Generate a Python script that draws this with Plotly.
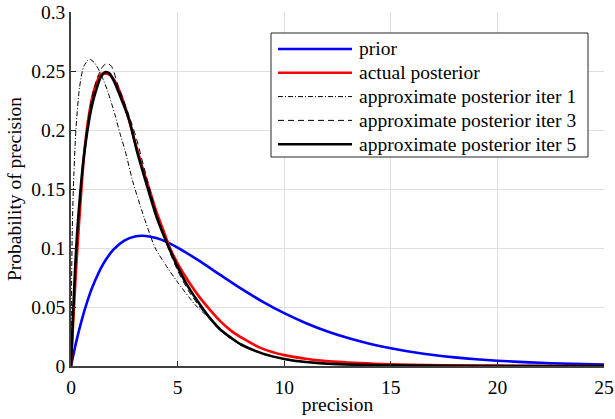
import plotly.graph_objects as go

# ---- data ----
prior_x = [0, 0.25, 0.5, 0.75, 1, 1.5, 2, 2.5, 3, 3.5, 4, 4.5, 5, 6, 7, 8, 9, 10, 11, 12,
           13, 14, 15, 16, 17, 18, 19, 20, 21, 22, 23, 24, 25]
prior_y = [0, 0.0209, 0.0387, 0.0539, 0.0667, 0.0861, 0.0988, 0.1063, 0.1098, 0.1102, 0.1084,
           0.1050, 0.1004, 0.0893, 0.0772, 0.0653, 0.0544, 0.0448, 0.0365, 0.0295, 0.0237,
           0.0189, 0.0150, 0.0119, 0.0093, 0.0073, 0.0057, 0.0045, 0.0035, 0.0027, 0.0021,
           0.0016, 0.0012]

actual_x = [0, 0.1, 0.2, 0.3, 0.45, 0.6, 0.8, 1.0, 1.2, 1.4, 1.6, 1.8, 2.0, 2.3, 2.6, 3.0,
            3.3, 3.67, 4.0, 4.33, 4.64, 5.0, 5.5, 6.0, 6.5, 7.0, 7.5, 8.0, 9.0, 10, 11, 12.5,
            15, 17.5, 20, 25]
actual_y = [0, 0.036, 0.070, 0.100, 0.140, 0.176, 0.208, 0.228, 0.240, 0.247, 0.248, 0.247,
            0.243, 0.232, 0.216, 0.190, 0.171, 0.150, 0.131, 0.115, 0.100, 0.087, 0.072,
            0.059, 0.048, 0.038, 0.030, 0.024, 0.0145, 0.0092, 0.0062, 0.0035, 0.0014,
            0.0006, 0.0003, 0.0]

iter1_x = [0, 0.03, 0.06, 0.11, 0.23, 0.4, 0.6, 0.86, 1.1, 1.36, 1.7, 2.06, 2.3, 2.53, 2.92,
           3.5, 3.95, 4.5, 5.0, 5.82, 6.5, 7.0, 8.0, 9.0, 10, 12, 15, 20, 25]
iter1_y = [0, 0.075, 0.115, 0.150, 0.200, 0.236, 0.254, 0.260, 0.257, 0.249, 0.234, 0.213,
           0.197, 0.183, 0.155, 0.122, 0.100, 0.084, 0.071, 0.052, 0.040, 0.030, 0.0175,
           0.0105, 0.0062, 0.0022, 0.0005, 0.0001, 0]

iter3_x = [0, 0.1, 0.2, 0.3, 0.45, 0.6, 0.8, 1.0, 1.25, 1.5, 1.7, 1.9, 2.22, 2.69, 3.08, 3.5,
           4.0, 4.6, 5.0, 5.5, 6.0, 6.5, 7.0, 7.5, 8.0, 9.0, 10, 11, 12.5, 15, 20, 25]
iter3_y = [0, 0.043, 0.083, 0.115, 0.150, 0.179, 0.208, 0.229, 0.245, 0.254, 0.2565, 0.254,
           0.237, 0.214, 0.192, 0.163, 0.130, 0.098, 0.081, 0.064, 0.051, 0.040, 0.030,
           0.023, 0.0175, 0.0100, 0.0057, 0.0032, 0.0015, 0.0004, 0.0, 0]

iter5_x = [0, 0.1, 0.2, 0.3, 0.45, 0.6, 0.8, 1.0, 1.2, 1.4, 1.6, 1.8, 2.0, 2.3, 2.73, 3.08,
           3.61, 4.0, 4.25, 4.6, 5.0, 5.5, 6.13, 6.5, 7.0, 7.5, 8.0, 9.0, 10, 11, 12.5, 15,
           20, 25]
iter5_y = [0, 0.045, 0.085, 0.116, 0.150, 0.177, 0.203, 0.222, 0.235, 0.245, 0.249, 0.248,
           0.242, 0.229, 0.2085, 0.183, 0.150, 0.127, 0.115, 0.100, 0.084, 0.067, 0.050,
           0.041, 0.031, 0.024, 0.018, 0.0105, 0.0060, 0.0034, 0.0016, 0.0005, 0.0, 0]

names = ["prior", "actual posterior", "approximate posterior iter 1",
         "approximate posterior iter 3", "approximate posterior iter 5"]

x_ticks = [0, 5, 10, 15, 20, 25]
y_ticks = [0, 0.05, 0.1, 0.15, 0.2, 0.25, 0.3]
y_ticktext = ["0", "0.05", "0.1", "0.15", "0.2", "0.25", "0.3"]

FONT = "Liberation Serif, Times New Roman, serif"
FS = 19.5

# figure geometry (pixels) used to place the hand-made MATLAB-style legend
W, H = 615, 419
ML, MR, MT, MB = 71, 11, 12, 53
PW, PH = W - ML - MR, H - MT - MB


def px(xp):
    return (xp - ML) / PW


def py(yp):
    return (H - MB - yp) / PH


styles = [
    dict(color="#0000FF", width=2.6),
    dict(color="#FF0000", width=2.6),
    dict(color="#000000", width=1, dash="5px,2px,1px,2px"),
    dict(color="#000000", width=1, dash="6px,4px"),
    dict(color="#000000", width=2.6),
]
data = [(prior_x, prior_y), (actual_x, actual_y), (iter1_x, iter1_y),
        (iter3_x, iter3_y), (iter5_x, iter5_y)]

fig = go.Figure()
for (xs, ys), ln, nm in zip(data, styles, names):
    fig.add_trace(go.Scatter(x=xs, y=ys, mode="lines", name=nm,
                             line=dict(ln, shape="spline", smoothing=0.7),
                             hoverinfo="skip", showlegend=False, cliponaxis=False))

# legend box, samples and labels
shapes = [dict(type="rect", xref="paper", yref="paper",
               x0=px(271), x1=px(588), y0=py(157), y1=py(33),
               line=dict(color="#262626", width=1), fillcolor="white", layer="above")]
annotations = []
row0, drow = 49.0, 23.8
for i, (ln, nm) in enumerate(zip(styles, names)):
    yc = row0 + i * drow
    shapes.append(dict(type="line", xref="paper", yref="paper",
                       x0=px(278), x1=px(352), y0=py(yc), y1=py(yc),
                       line=ln, layer="above"))
    annotations.append(dict(xref="paper", yref="paper", x=px(357), y=py(yc),
                            xanchor="left", yanchor="middle", text=nm, showarrow=False,
                            font=dict(family=FONT, size=FS, color="#000000")))

fig.update_layout(
    width=W, height=H,
    margin=dict(l=ML, r=MR, t=MT, b=MB, autoexpand=False),
    paper_bgcolor="white", plot_bgcolor="white",
    font=dict(family=FONT, size=FS, color="#000000"),
    showlegend=False,
    shapes=shapes, annotations=annotations,
    xaxis=dict(range=[0, 25], tickvals=x_ticks, ticks="inside", ticklen=5,
               tickcolor="#262626", showgrid=True, gridcolor="#e0e0e0", gridwidth=1,
               showline=True, linecolor="#404040", linewidth=1.5, zeroline=False,
               automargin=False, ticklabelstandoff=3, tickfont=dict(family=FONT, size=FS),
               title=dict(text="precision", standoff=0,
                          font=dict(family=FONT, size=FS))),
    yaxis=dict(range=[0, 0.3], tickvals=y_ticks, ticktext=y_ticktext, ticks="inside",
               ticklen=5, tickcolor="#262626", showgrid=True, gridcolor="#e0e0e0",
               gridwidth=1, showline=True, linecolor="#404040", linewidth=1.5,
               zeroline=False, automargin=False, tickfont=dict(family=FONT, size=FS),
               title=dict(text="Probability of precision", standoff=4,
                          font=dict(family=FONT, size=FS))),
)

fig.write_html("out.html", config={"displayModeBar": False})
